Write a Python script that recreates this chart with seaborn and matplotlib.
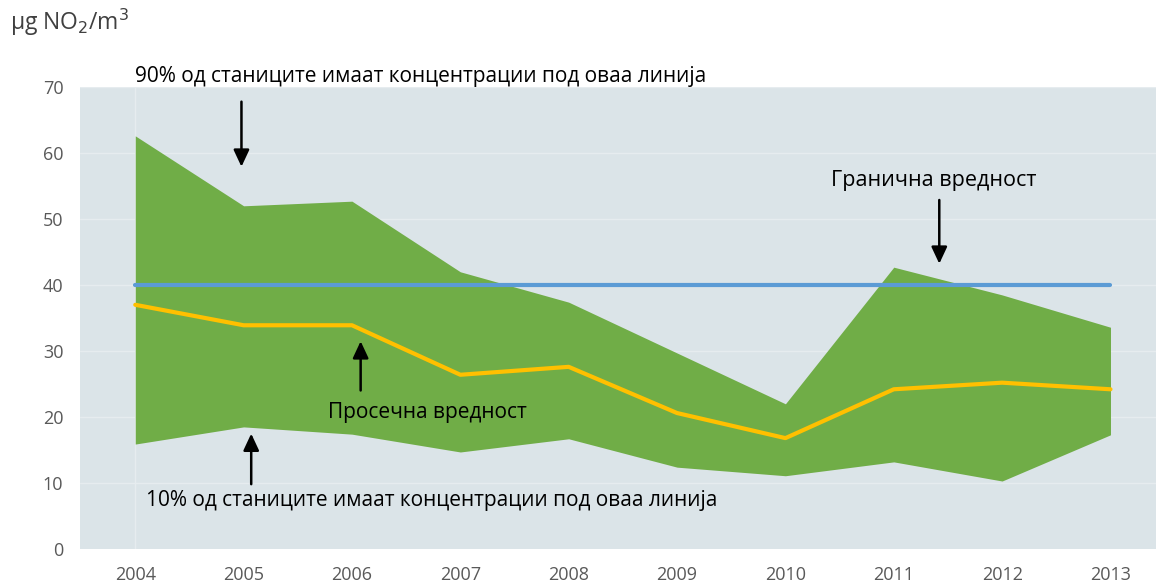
import matplotlib
matplotlib.use("Agg")
import matplotlib.pyplot as plt
import seaborn as sns
import pandas as pd

years = [2004, 2005, 2006, 2007, 2008, 2009, 2010, 2011, 2012, 2013]
p90 = [62.6, 52.0, 52.7, 42.0, 37.4, 29.7, 22.0, 42.7, 38.5, 33.6]
p10 = [15.9, 18.5, 17.4, 14.7, 16.7, 12.4, 11.1, 13.2, 10.3, 17.3]
mean = [37.0, 33.9, 33.9, 26.4, 27.6, 20.6, 16.8, 24.2, 25.2, 24.2]
limit = [40] * len(years)
yticks = [0, 10, 20, 30, 40, 50, 60, 70]

sns.set_theme(style="white", rc={"axes.facecolor": "#dbe4e8"})
plt.rcParams['font.family'] = ['Open Sans', 'DejaVu Sans']

fig = plt.figure(figsize=(11.56, 5.86), dpi=100)
ax = fig.add_axes([80/1156, 1-549/586, 1-80/1156, (549-87)/586])

df = pd.DataFrame({"year": years, "p90": p90, "p10": p10, "mean": mean, "limit": limit})

for v in yticks[1:]:
    ax.axhline(v, color="#e6ecef", lw=1, zorder=0.5)
ax.axvline(2004, color="#e6ecef", lw=1, zorder=0.5)

ax.fill_between(df["year"], df["p10"], df["p90"], color="#70ad47", lw=0, zorder=1)
sns.lineplot(data=df, x="year", y="limit", color="#5b9bd5", lw=3, ax=ax, zorder=2)
sns.lineplot(data=df, x="year", y="mean", color="#ffc000", lw=3, ax=ax, zorder=3)

ax.set_xlim(2003.49, 2013.42)
ax.set_ylim(0, 70)
ax.set_yticks(yticks)
ax.set_xticks(years)
ax.set_xlabel("")
ax.set_ylabel("")
ax.tick_params(axis="both", colors="#595959", labelsize=13, length=0, pad=12)
for s in ax.spines.values():
    s.set_visible(False)

fig.text(10/1156, 1-22/586, "µg NO$_2$/m$^3$", fontsize=16.5, color="#404040", va="center", ha="left")

tkw = dict(fontsize=15, color="black", annotation_clip=False)
ap = dict(arrowstyle="-|>,head_length=0.6,head_width=0.28", color="black", lw=1.8, mutation_scale=17)

ax.annotate("90% од станиците имаат концентрации под оваа линија", xy=(2006.63, 71.6), ha="center", va="center", **tkw)
ax.annotate("", xy=(2004.98, 57.5), xytext=(2004.98, 68.2), arrowprops=ap, annotation_clip=False)

ax.annotate("Гранична вредност", xy=(2011.37, 55.8), ha="center", va="center", fontsize=15.5, color="black")
ax.annotate("", xy=(2011.42, 42.8), xytext=(2011.42, 53.3), arrowprops=ap)

ax.annotate("Просечна вредност", xy=(2006.7, 20.7), ha="center", va="center", **tkw)
ax.annotate("", xy=(2006.08, 31.9), xytext=(2006.08, 23.6), arrowprops=ap)

ax.annotate("10% од станиците имаат концентрации под оваа линија", xy=(2006.74, 7.3), ha="center", va="center", **tkw)
ax.annotate("", xy=(2005.07, 17.9), xytext=(2005.07, 9.4), arrowprops=ap)

fig.savefig("out.png", dpi=100)
